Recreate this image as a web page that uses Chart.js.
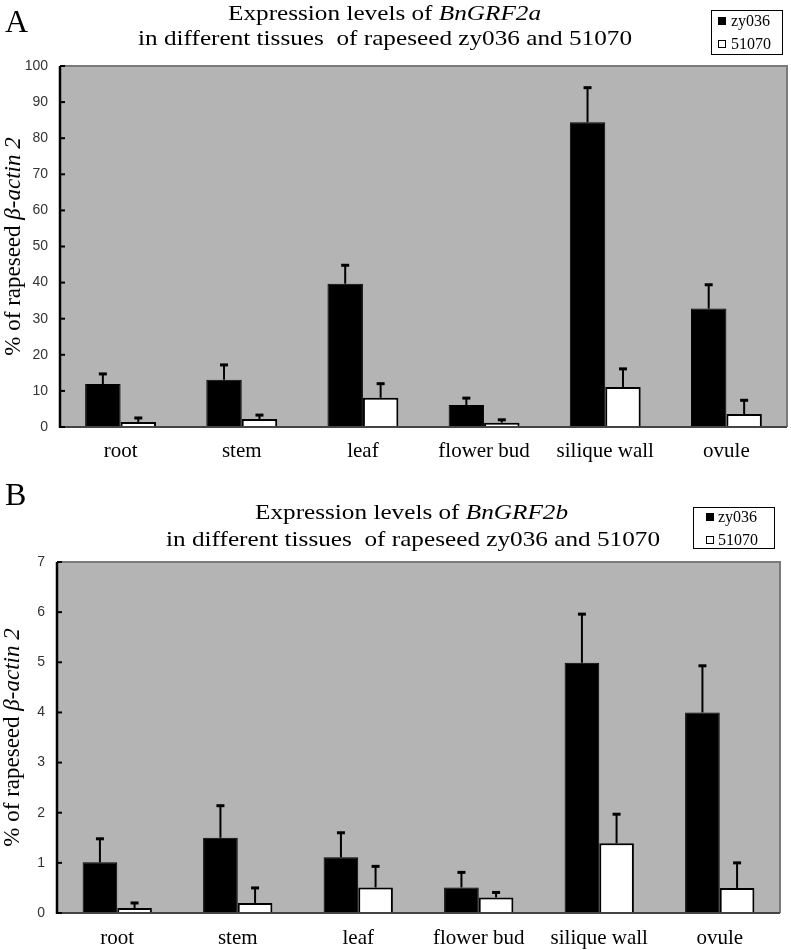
<!DOCTYPE html>
<html>
<head>
<meta charset="utf-8">
<script src="https://cdn.jsdelivr.net/npm/chart.js@4.4.1/dist/chart.umd.min.js"></script>
<style>
  body { margin: 0; background: #fff; }
  .panel { position: absolute; left: 0; width: 791px; height: 475px; }
</style>
</head>
<body>
<div class="panel" style="top:0"><canvas id="chartA" width="791" height="475"></canvas></div>
<div class="panel" style="top:475px"><canvas id="chartB" width="791" height="475"></canvas></div>
<script>
// data --------------------------------------------------------------------
const tissues = ['root', 'stem', 'leaf', 'flower bud', 'silique wall', 'ovule'];
const seriesNames = ['zy036', '51070'];

// panel A : BnGRF2a
const grf2aZy036    = [11.9, 13.1, 39.7, 6.1, 84.4, 32.8];
const grf2aZy036Err = [2.8, 4.1, 5.1, 1.9, 9.6, 6.6];
const grf2a51070    = [1.4, 2.2, 8.1, 1.2, 11.1, 3.6];
const grf2a51070Err = [1.1, 1.1, 3.9, 0.8, 5.0, 3.8];
const yMaxA = 100, yStepA = 10;

// panel B : BnGRF2b
const grf2bZy036    = [1.01, 1.5, 1.11, 0.51, 4.99, 4.0];
const grf2bZy036Err = [0.47, 0.64, 0.49, 0.30, 0.97, 0.93];
const grf2b51070    = [0.1, 0.2, 0.51, 0.31, 1.39, 0.5];
const grf2b51070Err = [0.1, 0.3, 0.42, 0.1, 0.58, 0.5];
const yMaxB = 7, yStepB = 1;

const SERIF = '"Liberation Serif", serif';
const SANS = '"Liberation Sans", sans-serif';

// error bars, upward only
const errorBars = {
  id: 'errorBars',
  afterDatasetsDraw(chart) {
    const ctx = chart.ctx, y = chart.scales.y;
    chart.data.datasets.forEach((ds, i) => {
      chart.getDatasetMeta(i).data.forEach((bar, j) => {
        const top = y.getPixelForValue(ds.data[j] + ds.errors[j]);
        ctx.save();
        ctx.strokeStyle = '#000';
        ctx.lineWidth = 2;
        ctx.beginPath(); ctx.moveTo(bar.x, bar.y); ctx.lineTo(bar.x, top); ctx.stroke();
        ctx.lineWidth = 3;
        ctx.beginPath(); ctx.moveTo(bar.x - 4, top); ctx.lineTo(bar.x + 4, top); ctx.stroke();
        ctx.restore();
      });
    });
  }
};

// grey plot area + frame + inward ticks
const plotFrame = {
  id: 'plotFrame',
  beforeDatasetsDraw(chart) {
    const { ctx, chartArea: a } = chart;
    ctx.save();
    ctx.fillStyle = '#b4b4b4';
    ctx.fillRect(a.left, a.top, a.right - a.left, a.bottom - a.top);
    ctx.restore();
  },
  afterDatasetsDraw(chart) {
    const { ctx, chartArea: a } = chart;
    const y = chart.scales.y;
    ctx.save();
    ctx.strokeStyle = '#7a7a7a';
    ctx.lineWidth = 2;
    ctx.beginPath();
    ctx.moveTo(a.left, a.top); ctx.lineTo(a.right, a.top); ctx.lineTo(a.right, a.bottom);
    ctx.stroke();
    ctx.strokeStyle = '#444';
    ctx.beginPath(); ctx.moveTo(a.left, a.bottom); ctx.lineTo(a.right, a.bottom); ctx.stroke();
    ctx.strokeStyle = '#000';
    ctx.lineWidth = 2.5;
    ctx.beginPath(); ctx.moveTo(a.left, a.top); ctx.lineTo(a.left, a.bottom + 1); ctx.stroke();
    ctx.lineWidth = 2;
    y.ticks.forEach(t => {
      const py = y.getPixelForValue(t.value);
      ctx.beginPath(); ctx.moveTo(a.left, py); ctx.lineTo(a.left + 5, py); ctx.stroke();
    });
    ctx.restore();
  }
};

function drawParts(ctx, parts, x, y, size, sx) {
  ctx.save();
  ctx.translate(x, y);
  ctx.scale(sx, 1);
  let cx = 0;
  parts.forEach(p => {
    ctx.font = (p.italic ? 'italic ' : '') + size + 'px ' + SERIF;
    ctx.fillText(p.text, cx, 0);
    cx += ctx.measureText(p.text).width;
  });
  ctx.restore();
}
function partsWidth(ctx, parts, size) {
  let w = 0;
  parts.forEach(p => {
    ctx.font = (p.italic ? 'italic ' : '') + size + 'px ' + SERIF;
    w += ctx.measureText(p.text).width;
  });
  return w;
}

// panel letter, two-line title, legend box, y title
const decorations = {
  id: 'decorations',
  afterDraw(chart, args, o) {
    const ctx = chart.ctx, a = chart.chartArea;
    ctx.save();
    ctx.fillStyle = '#000';
    ctx.textBaseline = 'alphabetic';
    ctx.textAlign = 'left';
    ctx.font = '32px ' + SERIF;
    ctx.fillText(o.letter, o.letterX, o.letterY);

    const line1 = [{ text: 'Expression levels of ' }, { text: o.gene, italic: true }];
    const line2 = [{ text: 'in different tissues  of rapeseed ' + seriesNames[0] + ' and ' + seriesNames[1] }];
    const sx = o.line2Width / partsWidth(ctx, line2, o.titleSize);
    drawParts(ctx, line1, o.line1X, o.line1Y, o.titleSize, sx);
    drawParts(ctx, line2, o.line2X, o.line2Y, o.titleSize, sx);

    // legend
    const L = o.legend;
    ctx.fillStyle = '#fff';
    ctx.fillRect(L.x, L.y, L.w, L.h);
    ctx.strokeStyle = '#000';
    ctx.lineWidth = 1;
    ctx.strokeRect(L.x + 0.5, L.y + 0.5, L.w, L.h);
    ctx.font = '16px ' + SERIF;
    ctx.textBaseline = 'middle';
    chart.data.datasets.forEach((ds, i) => {
      const cy = L.rows[i];
      ctx.fillStyle = ds.backgroundColor;
      ctx.fillRect(L.sqX, cy - 4, 8, 8);
      ctx.strokeStyle = '#000';
      ctx.strokeRect(L.sqX + 0.5, cy - 3.5, 7, 7);
      ctx.fillStyle = '#000';
      ctx.fillText(ds.label, L.textX, cy + 1);
    });

    // y title with italic gene part
    const yParts = [{ text: '% of rapeseed ' }, { text: '\u03b2-actin 2', italic: true }];
    const w = partsWidth(ctx, yParts, o.yTitleSize);
    ctx.textBaseline = 'alphabetic';
    ctx.fillStyle = '#000';
    ctx.translate(o.yTitleX, (a.top + a.bottom) / 2);
    ctx.rotate(-Math.PI / 2);
    drawParts(ctx, yParts, -w / 2, 0, o.yTitleSize, 1);
    ctx.restore();
  }
};

function makeChart(id, zy, zyErr, wt, wtErr, yMax, yStep, pad, xAxisH, xPad, catPct, deco) {
  return new Chart(document.getElementById(id), {
    type: 'bar',
    data: {
      labels: tissues,
      datasets: [
        { label: seriesNames[0], data: zy, errors: zyErr, backgroundColor: '#000', borderColor: '#000', borderWidth: 1 },
        { label: seriesNames[1], data: wt, errors: wtErr, backgroundColor: '#fff', borderColor: '#000', borderWidth: 2 }
      ]
    },
    options: {
      responsive: false,
      animation: false,
      devicePixelRatio: 1,
      layout: { padding: pad },
      datasets: { bar: { barPercentage: 1.0, categoryPercentage: catPct } },
      plugins: { legend: { display: false }, title: { display: false }, tooltip: { enabled: false }, decorations: deco },
      scales: {
        x: {
          grid: { display: false, drawTicks: false },
          border: { display: false },
          ticks: { color: '#000', font: { family: SERIF, size: 21 }, padding: xPad, maxRotation: 0, autoSkip: false },
          afterFit: s => { s.height = xAxisH; }
        },
        y: {
          min: 0, max: yMax,
          grid: { display: false, drawTicks: false },
          border: { display: false },
          ticks: { stepSize: yStep, color: '#333', font: { family: SANS, size: 14 }, padding: 12 },
          afterFit: s => { s.width = pad.yw; }
        }
      }
    },
    plugins: [plotFrame, errorBars, decorations]
  });
}

function build() {
  makeChart('chartA', grf2aZy036, grf2aZy036Err, grf2a51070, grf2a51070Err, yMaxA, yStepA,
    { left: 0, top: 66, right: 4, bottom: 0, yw: 60 }, 48, 12, 0.585,
    { letter: 'A', letterX: 5, letterY: 32, gene: 'BnGRF2a', titleSize: 22,
      line1X: 228, line1Y: 20, line2X: 138, line2Y: 45, line2Width: 494,
      yTitleX: 20, yTitleSize: 23,
      legend: { x: 711, y: 10, w: 71, h: 44, sqX: 718, textX: 731, rows: [21, 44] } });

  makeChart('chartB', grf2bZy036, grf2bZy036Err, grf2b51070, grf2b51070Err, yMaxB, yStepB,
    { left: 0, top: 87, right: 11, bottom: 0, yw: 57 }, 37, 13, 0.575,
    { letter: 'B', letterX: 5, letterY: 30, gene: 'BnGRF2b', titleSize: 22,
      line1X: 255, line1Y: 44, line2X: 166, line2Y: 71, line2Width: 494,
      yTitleX: 19, yTitleSize: 23,
      legend: { x: 693, y: 32, w: 81, h: 41, sqX: 706, textX: 718, rows: [42, 65] } });
}

Promise.all([
  document.fonts.load('20px "Liberation Serif"'),
  document.fonts.load('italic 20px "Liberation Serif"'),
  document.fonts.load('13px "Liberation Sans"')
]).then(build, build);
</script>
</body>
</html>
